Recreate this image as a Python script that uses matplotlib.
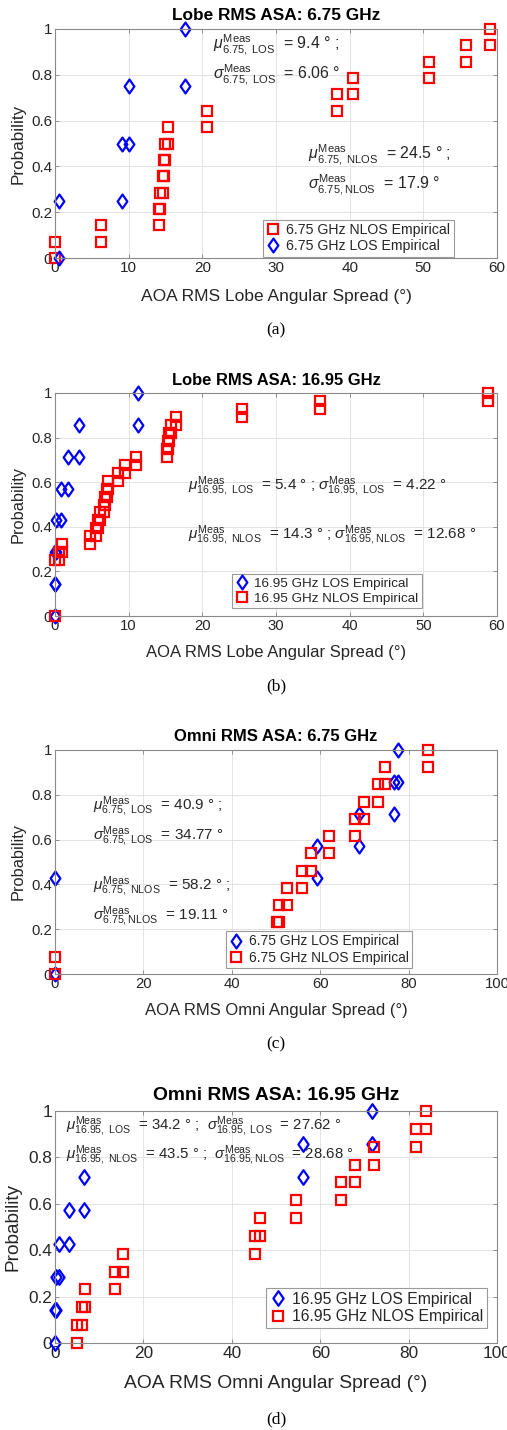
import numpy as np
import matplotlib
matplotlib.use('Agg')
import matplotlib.pyplot as plt
from matplotlib.path import Path

plt.rcParams['font.family'] = ['Liberation Sans', 'DejaVu Sans']
plt.rcParams['mathtext.fontset'] = 'custom'
plt.rcParams['mathtext.rm'] = 'Liberation Sans'
plt.rcParams['mathtext.it'] = 'Liberation Sans:italic'
plt.rcParams['mathtext.bf'] = 'Liberation Sans:bold'

lobe675_nlos = [0.0, 6.3, 14.1, 14.2, 14.6, 14.8, 14.9, 15.3, 20.7, 38.3, 40.5, 50.8, 55.8, 59.0]
lobe675_los = [0.6, 9.1, 10.1, 17.7]

lobe1695_los = [0.0, 0.05, 0.1, 0.8, 1.7, 3.2, 11.3]
lobe1695_nlos = [0, 0, 0, 0, 0, 0, 0, 0.6, 1.0, 4.75, 5.5, 5.8, 6.1, 6.7, 6.8, 7.0,
                 7.2, 8.6, 9.5, 11.0, 15.2, 15.4, 15.5, 15.8, 16.4, 25.4, 36.0, 58.8]

omni675_los = [0, 0, 0, 59.2, 68.7, 76.8, 77.7]
omni675_nlos = [0, 50.2, 50.2, 50.6, 52.6, 55.8, 57.9, 62.1, 67.9, 69.8, 73.0, 74.7, 84.5]

omni1695_los = [0.0, 0.3, 0.9, 3.2, 6.6, 56.1, 71.7]
omni1695_nlos = [4.9, 6.2, 6.8, 13.6, 15.3, 45.2, 46.4, 54.5, 64.7, 67.9, 72.2, 81.7, 83.9]

yticks = [0, 0.2, 0.4, 0.6, 0.8, 1]
ytick_labels = ['0', '0.2', '0.4', '0.6', '0.8', '1']

W, H = 507, 1430
fig = plt.figure(figsize=(W / 100, H / 100), dpi=100)

diamond = Path([(0, -1), (0.7, 0), (0, 1), (-0.7, 0), (0, -1)],
               [Path.MOVETO, Path.LINETO, Path.LINETO, Path.LINETO, Path.CLOSEPOLY])
TXT = '#262626'


def ecdf_stairs(v):
    # empirical CDF corners, like MATLAB ecdf + stairs markers
    u, c = np.unique(v, return_counts=True)
    f = np.cumsum(c) / len(v)
    f0 = np.concatenate([[0], f[:-1]])
    return np.repeat(u, 2), np.column_stack([f0, f]).ravel()


def add_axes_px(l, t, r, b):
    return fig.add_axes([l / W, 1 - b / H, (r - l) / W, (b - t) / H])


def ftext(x, y, s, **kw):
    fig.text(x / W, 1 - y / H, s, ha='center', va='center', **kw)


def panel(top, bottom, xmax, xstep, series, title, xlabel, cap, ypos, notes,
          leg_anchor, fs_tick, fs_leg, fs_title, fs_xl, fs_yl, fs_note, ylab_x, ms_sq, ms_di):
    ax = add_axes_px(55, top, 497, bottom)
    for vals, kind, lab in series:
        x, y = ecdf_stairs(vals)
        if kind == 'los':
            ax.plot(x, y, linestyle='none', marker=diamond, ms=ms_di, mfc='none',
                    mec='#0000ff', mew=1.6, label=lab, clip_on=False)
        else:
            ax.plot(x, y, linestyle='none', marker='s', ms=ms_sq, mfc='none',
                    mec='#ff0000', mew=1.6, label=lab, clip_on=False)
    ax.set_xlim(0, xmax)
    ax.set_ylim(0, 1)
    ax.set_xticks(np.arange(0, xmax + 1, xstep))
    ax.set_yticks(yticks)
    ax.set_yticklabels(ytick_labels)
    ax.tick_params(direction='in', length=3, width=0.6, colors='#808080',
                   labelcolor=TXT, labelsize=fs_tick, pad=2, top=True, right=True)
    ax.grid(True, color='#e3e3e3', lw=0.7)
    ax.set_axisbelow(True)
    for s in ax.spines.values():
        s.set_color('#8a8a8a')
        s.set_linewidth(0.8)
    for (tx, ty, s) in notes:
        ax.text(tx, ty, s, fontsize=fs_note, color=TXT, ha='left', va='center')
    leg = ax.legend(loc='lower left', bbox_to_anchor=leg_anchor, fontsize=fs_leg,
                    frameon=True, fancybox=False, framealpha=1, edgecolor='#9a9a9a',
                    borderpad=0.25, handlelength=1.0, handletextpad=0.4,
                    labelspacing=0.15, borderaxespad=0)
    leg.get_frame().set_linewidth(0.8)
    for t in leg.get_texts():
        t.set_color(TXT)
    ftext(276, top - ypos[0], title, fontsize=fs_title, fontweight='bold', color='black')
    ftext(276, bottom + ypos[1], xlabel, fontsize=fs_xl, color=TXT)
    ftext(ylab_x, (top + bottom) / 2, 'Probability', fontsize=fs_yl, color=TXT, rotation=90)
    ftext(276, bottom + ypos[2], cap, fontsize=12.5, family='Liberation Serif', color='black')
    return ax


def note(sym, sub, rest):
    return r'$\%s^{\mathrm{Meas}}_{\mathrm{%s}}$  %s' % (sym, sub.replace(' ', r'\ '), rest)


panel(29, 258, 60, 10,
      [(lobe675_nlos, 'nlos', '6.75 GHz NLOS Empirical'),
       (lobe675_los, 'los', '6.75 GHz LOS Empirical')],
      'Lobe RMS ASA: 6.75 GHz', 'AOA RMS Lobe Angular Spread (°)', '(a)', (13, 38, 72),
      [(21.5, 0.93, note('mu', '6.75, LOS', '= 9.4 ° ;')),
       (21.5, 0.80, note('sigma', '6.75, LOS', '= 6.06 °')),
       (34.4, 0.45, note('mu', '6.75, NLOS', '= 24.5 ° ;')),
       (34.4, 0.32, note('sigma', '6.75,NLOS', '= 17.9 °'))],
      (0.47, 0.005), 11, 10.2, 12.4, 12.5, 12.3, 11.4, 18, 7, 10)

panel(393, 616, 60, 10,
      [(lobe1695_los, 'los', '16.95 GHz LOS Empirical'),
       (lobe1695_nlos, 'nlos', '16.95 GHz NLOS Empirical')],
      'Lobe RMS ASA: 16.95 GHz', 'AOA RMS Lobe Angular Spread (°)', '(b)', (12.5, 37, 70),
      [(18.1, 0.58, note('mu', '16.95, LOS', '= 5.4 ° ; ') + note('sigma', '16.95, LOS', '= 4.22 °')),
       (18.1, 0.36, note('mu', '16.95, NLOS', '= 14.3 ° ; ') + note('sigma', '16.95,NLOS', '= 12.68 °'))],
      (0.40, 0.036), 10.7, 9.7, 11.9, 12, 11.8, 11.0, 18, 7, 10)

panel(750, 974, 100, 20,
      [(omni675_los, 'los', '6.75 GHz LOS Empirical'),
       (omni675_nlos, 'nlos', '6.75 GHz NLOS Empirical')],
      'Omni RMS ASA: 6.75 GHz', 'AOA RMS Omni Angular Spread (°)', '(c)', (13, 36, 70),
      [(8.5, 0.747, note('mu', '6.75, LOS', '= 40.9 ° ;')),
       (8.5, 0.613, note('sigma', '6.75, LOS', '= 34.77 °')),
       (8.5, 0.39, note('mu', '6.75, NLOS', '= 58.2 ° ;')),
       (8.5, 0.256, note('sigma', '6.75,NLOS', '= 19.11 °'))],
      (0.387, 0.027), 10.7, 9.9, 12, 12, 11.8, 11.0, 18, 7, 10)

panel(1111, 1343, 100, 20,
      [(omni1695_los, 'los', '16.95 GHz LOS Empirical'),
       (omni1695_nlos, 'nlos', '16.95 GHz NLOS Empirical')],
      'Omni RMS ASA: 16.95 GHz', 'AOA RMS Omni Angular Spread (°)', '(d)', (15, 40, 76),
      [(2.4, 0.93, note('mu', '16.95, LOS', '= 34.2 ° ;  ') + note('sigma', '16.95, LOS', '= 27.62 °')),
       (2.4, 0.806, note('mu', '16.95, NLOS', '= 43.5 ° ;  ') + note('sigma', '16.95,NLOS', '= 28.68 °'))],
      (0.477, 0.065), 12.4, 11.3, 13.9, 13.9, 13.7, 10.8, 13, 7, 10.5)

fig.savefig('out.png', dpi=100)
